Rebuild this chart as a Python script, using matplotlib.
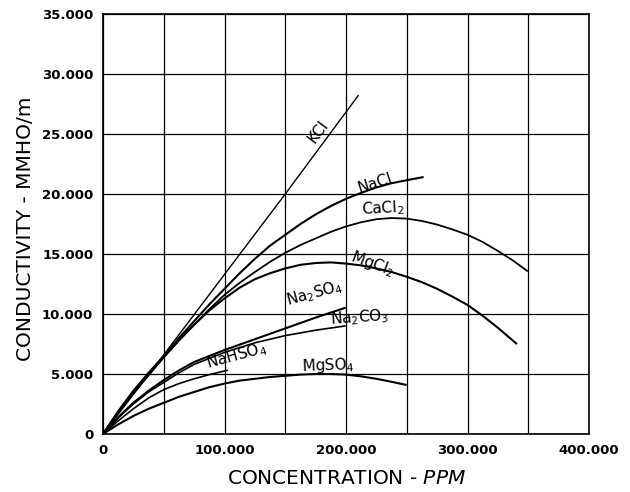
import numpy as np
import matplotlib
matplotlib.use("Agg")
import matplotlib.pyplot as plt
from matplotlib.ticker import FuncFormatter, MultipleLocator

# values in thousands (ppm and mmho/m)
kcl_x = [0, 50, 100, 150, 210]
kcl_y = [0, 6.6, 13.3, 20.0, 28.2]

nacl_x = [0, 12.5, 25, 37.5, 50, 62.5, 75, 87.5, 100, 112.5, 125, 137.5, 150,
          162.5, 175, 187.5, 200, 212.5, 225, 237.5, 250, 263]
nacl_y = [0, 1.9, 3.6, 5.1, 6.5, 8.0, 9.4, 10.8, 12.1, 13.4, 14.6, 15.7, 16.6,
          17.5, 18.3, 19.0, 19.6, 20.1, 20.55, 20.9, 21.15, 21.4]

cacl2_x = [0, 12.5, 25, 37.5, 50, 62.5, 75, 87.5, 100, 112.5, 125, 137.5, 150,
           162.5, 175, 187.5, 200, 212.5, 225, 237.5, 250, 262.5, 275, 287.5,
           300, 312.5, 325, 337.5, 349]
cacl2_y = [0, 1.8, 3.4, 5.0, 6.4, 7.8, 9.1, 10.4, 11.6, 12.6, 13.5, 14.35, 15.1,
           15.75, 16.3, 16.85, 17.3, 17.65, 17.9, 18.0, 17.95, 17.75, 17.45, 17.05,
           16.6, 16.0, 15.25, 14.45, 13.6]

mgcl2_x = [0, 12.5, 25, 37.5, 50, 62.5, 75, 87.5, 100, 112.5, 125, 137.5, 150,
           162.5, 175, 187.5, 200, 212.5, 225, 237.5, 250, 262.5, 275, 287.5,
           300, 312.5, 325, 340]
mgcl2_y = [0, 1.8, 3.4, 4.9, 6.4, 7.8, 9.1, 10.3, 11.3, 12.2, 12.9, 13.4, 13.8,
           14.1, 14.25, 14.3, 14.2, 14.05, 13.8, 13.5, 13.1, 12.65, 12.1, 11.45,
           10.75, 9.85, 8.85, 7.55]

na2so4_x = [0, 12.5, 25, 37.5, 50, 62.5, 75, 87.5, 100, 125, 150, 175, 199]
na2so4_y = [0, 1.4, 2.6, 3.6, 4.5, 5.3, 6.0, 6.5, 7.0, 7.9, 8.8, 9.7, 10.5]

na2co3_x = [0, 12.5, 25, 37.5, 50, 62.5, 75, 87.5, 100, 125, 150, 175, 199]
na2co3_y = [0, 1.35, 2.5, 3.5, 4.3, 5.1, 5.8, 6.3, 6.8, 7.6, 8.2, 8.65, 9.0]

nahso4_x = [0, 12.5, 25, 37.5, 50, 62.5, 75, 87.5, 102]
nahso4_y = [0, 1.1, 2.1, 3.0, 3.7, 4.2, 4.6, 4.95, 5.3]

mgso4_x = [0, 12.5, 25, 37.5, 50, 62.5, 75, 87.5, 100, 112.5, 125, 137.5, 150,
           162.5, 175, 187.5, 200, 212.5, 225, 237.5, 249]
mgso4_y = [0, 0.8, 1.5, 2.1, 2.6, 3.1, 3.5, 3.9, 4.2, 4.45, 4.6, 4.75, 4.85,
           4.95, 5.0, 5.0, 4.95, 4.8, 4.6, 4.35, 4.1]

fig = plt.figure(figsize=(6.3, 4.92), dpi=100)
ax = fig.add_axes([0.1635, 0.1179, 0.7715, 0.8536])

ax.plot(kcl_x, kcl_y, color='black', lw=1.0)
ax.plot(nacl_x, nacl_y, color='black', lw=1.5)
ax.plot(cacl2_x, cacl2_y, color='black', lw=1.3)
ax.plot(mgcl2_x, mgcl2_y, color='black', lw=1.5)
ax.plot(na2so4_x, na2so4_y, color='black', lw=1.5)
ax.plot(na2co3_x, na2co3_y, color='black', lw=1.2)
ax.plot(nahso4_x, nahso4_y, color='black', lw=1.2)
ax.plot(mgso4_x, mgso4_y, color='black', lw=1.5)

# curve labels
lab = dict(color='black', fontsize=11, ha='center', va='center')
ax.text(177, 25.2, 'KCl', rotation=53, **lab)
ax.text(224, 20.9, 'NaCl', rotation=18, **lab)
ax.text(230, 18.8, 'CaCl$_2$', rotation=3, **lab)
ax.text(222, 14.2, 'MgCl$_2$', rotation=-20, **lab)
ax.text(174, 11.7, 'Na$_2$SO$_4$', rotation=15, **lab)
ax.text(211, 9.7, 'Na$_2$CO$_3$', rotation=4, **lab)
ax.text(110, 6.5, 'NaHSO$_4$', rotation=15, **lab)
ax.text(185, 5.7, 'MgSO$_4$', rotation=2, **lab)

ax.set_xlim(0, 400)
ax.set_ylim(0, 35)
ax.xaxis.set_major_locator(MultipleLocator(100))
ax.xaxis.set_minor_locator(MultipleLocator(50))
ax.yaxis.set_major_locator(MultipleLocator(5))
fmt = FuncFormatter(lambda v, p: '0' if v == 0 else '%d.000' % v)
ax.xaxis.set_major_formatter(fmt)
ax.yaxis.set_major_formatter(fmt)
ax.grid(True, which='both', color='black', lw=0.9)
ax.tick_params(which='both', length=0, pad=7, labelsize=9.5)
for t in ax.get_xticklabels() + ax.get_yticklabels():
    t.set_fontweight('bold')
for s in ax.spines.values():
    s.set_linewidth(1.2)

fig.text(0.55, 0.028, 'CONCENTRATION - $\\it{PPM}$', ha='center', va='center', fontsize=14.5)
fig.text(0.04, 0.535, 'CONDUCTIVITY - MMHO/m', rotation=90, ha='center', va='center', fontsize=14.5)

fig.savefig('out.png', dpi=100)
